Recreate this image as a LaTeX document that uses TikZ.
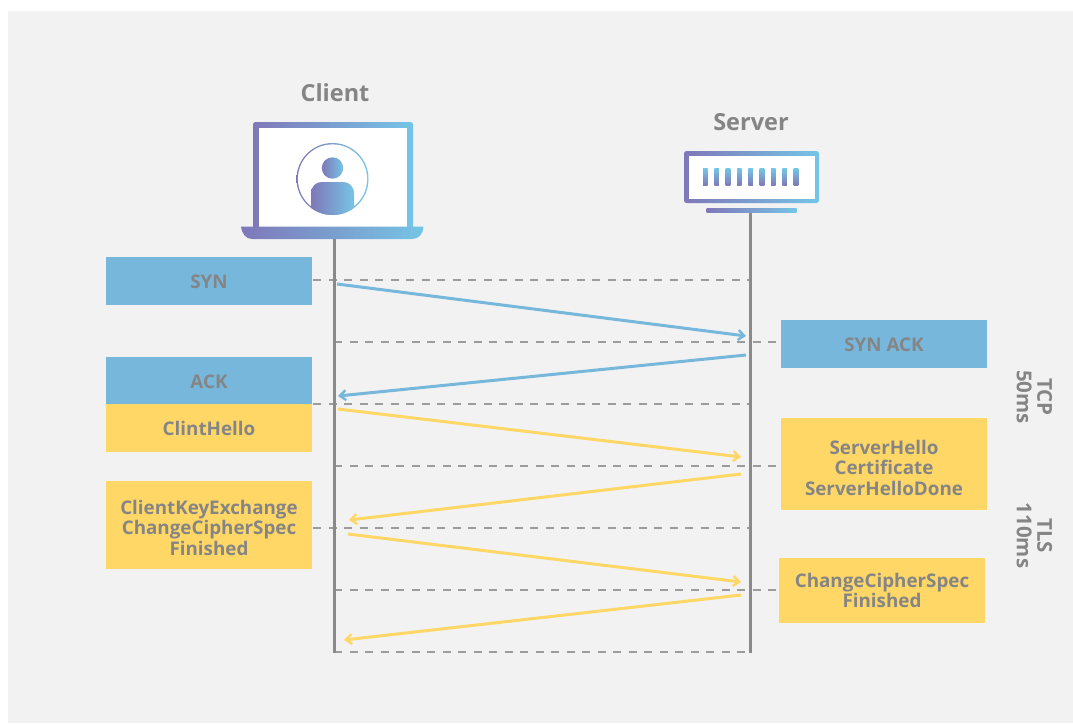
\documentclass[tikz,border=0pt]{standalone}
\usepackage{fontspec}
\setmainfont{Open Sans}
\usetikzlibrary{arrows.meta}
\definecolor{bgg}{HTML}{F2F2F2}
\definecolor{blu}{HTML}{77B7DC}
\definecolor{yel}{HTML}{FFD767}
\definecolor{txt}{HTML}{858585}
\definecolor{lin}{HTML}{8A8A8A}
\definecolor{gra}{HTML}{7F78B8}
\definecolor{grb}{HTML}{75C5E5}
\newcommand\dn[1]{\rule{0pt}{#1pt}}
\tikzset{
 lab/.style={font=\bfseries\fontsize{18.8}{20.5}\selectfont,text=txt,align=center,inner sep=0pt},
 head/.style={font=\bfseries\fontsize{23.5}{26}\selectfont,text=txt,inner sep=0pt},
 side/.style={font=\bfseries\fontsize{20.5}{20.5}\selectfont,text=txt,align=center,inner sep=0pt,rotate=-90},
 bluebox/.style={fill=blu,draw=none,minimum height=48pt,minimum width=206pt,inner sep=0pt,lab},
 yelbox/.style={fill=yel,draw=none,minimum width=206pt,inner sep=0pt,lab},
 life/.style={draw=lin,line width=3pt},
 dashline/.style={draw=lin!85,line width=1.4pt,dash pattern=on 8pt off 7.5pt},
 bmsg/.style={draw=blu,line width=3pt,-{Straight Barb[length=6pt,width=10pt,line width=2.4pt]}},
 ymsg/.style={draw=yel,line width=3pt,-{Straight Barb[length=6pt,width=10pt,line width=2.4pt]}},
 grad/.style={left color=gra,right color=grb,draw=none},
}
\begin{document}
\begin{tikzpicture}[x=1pt,y=-1pt]
\useasboundingbox (0,0) rectangle (1073,723);
\fill[white] (0,0) rectangle (1073,723);
\fill[bgg] (8,11) rectangle (1073,723);

% anchors on lifelines
\coordinate (ctop) at (334,238);
\coordinate (cbot) at (334,653);
\coordinate (stop) at (750,212);
\coordinate (sbot) at (750,653);

% dashed
\foreach \n/\ya/\xa/\xb in {d1/280/313/750,d2/342/334/781,d3/404/313/750,d4/466/334/781,d5/528/313/750,d6/590/334/780,d7/652/334/750}{
 \coordinate (\n a) at (\xa,\ya); \coordinate (\n b) at (\xb,\ya);
 \draw[dashline] (\n a) -- (\n b);
}
\draw[life] (ctop) -- (cbot);
\draw[life] (stop) -- (sbot);

% boxes
\node[bluebox] (syn) at (209,280.5) {\dn{16}SYN};
\node[bluebox] (synack) at (884,344) {\dn{16}SYN ACK};
\node[bluebox] (ack) at (209,380.5) {\dn{16}ACK};
\node[yelbox,minimum height=48pt] (hello) at (209,428) {\dn{16}ClintHello};
\node[yelbox,minimum height=92pt] (shello) at (884,464) {\dn{22}ServerHello\\Certificate\\ServerHelloDone};
\node[yelbox,minimum height=88pt] (ckey) at (209,525) {\dn{20}ClientKeyExchange\\ChangeCipherSpec\\Finished};
\node[yelbox,minimum height=65pt] (ccs) at (882,590.5) {ChangeCipherSpec\\Finished};

% arrows
\coordinate (m1a) at (337,284); \coordinate (m1b) at (746,336);
\coordinate (m2a) at (746,355); \coordinate (m2b) at (338,396);
\coordinate (m3a) at (338,409); \coordinate (m3b) at (741,457);
\coordinate (m4a) at (741,474); \coordinate (m4b) at (349,520);
\coordinate (m5a) at (348,534); \coordinate (m5b) at (741,582);
\coordinate (m6a) at (741,595); \coordinate (m6b) at (344,640);
\draw[bmsg] (m1a) -- (m1b);
\draw[bmsg] (m2a) -- (m2b);
\draw[ymsg] (m3a) -- (m3b);
\draw[ymsg] (m4a) -- (m4b);
\draw[ymsg] (m5a) -- (m5b);
\draw[ymsg] (m6a) -- (m6b);

% titles
\node[head] (client) at (335,93) {Client};
\node[head] (server) at (751,122) {Server};
\node[side] (tcp) at (1034.5,397) {TCP\\50ms};
\node[side] (tls) at (1034.5,535.5) {TLS\\110ms};

% laptop
\shade[grad,rounded corners=2.5pt] (253,122) rectangle (413,232);
\fill[white] (259,128) rectangle (407,228);
\shade[grad] (241,226.5) -- (423.5,226.5) .. controls (423,234) and (419,239) .. (412,239) -- (252,239) .. controls (246,239) and (242,234) .. (241,226.5) -- cycle;
% user icon
\shade[grad] (332.5,179) circle (36pt);
\fill[white] (332.5,179) circle (34.6pt);
\begin{scope}
\clip (332.5,179) circle (36pt);
\shade[grad] (311,216) -- (311,194) .. controls (311,186) and (316,182) .. (322,182) -- (343,182) .. controls (349,182) and (354,186) .. (354,194) -- (354,216) -- cycle;
\end{scope}
\shade[grad] (332.5,168) circle (10.7pt);

% server
\shade[grad,rounded corners=2.5pt] (684,151) rectangle (819,203);
\fill[white] (689,155.5) rectangle (814.5,198.5);
\foreach \x in {703,714.3,725.7,737,748.3,759.7,771,782.3,793.7}{
 \shade[bottom color=gra,top color=grb,draw=none] (\x,168.5) rectangle ++(4.6,17);
}
\shade[grad] (706.5,208) rectangle (796.5,212.5);
\end{tikzpicture}
\end{document}
